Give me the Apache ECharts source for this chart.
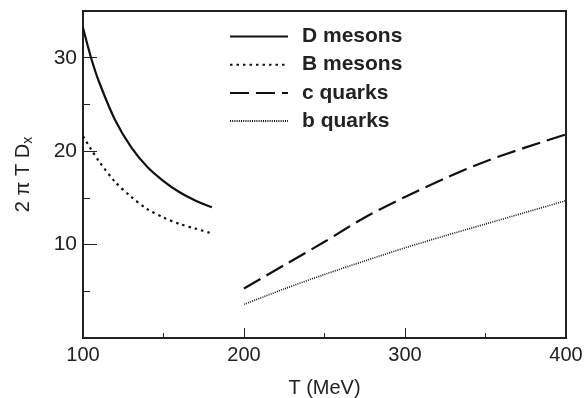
<!DOCTYPE html>
<html><head><meta charset="utf-8">
<script src="https://cdn.jsdelivr.net/npm/echarts@6/dist/echarts.min.js"></script>
<style>html,body{margin:0;padding:0;background:#fff}#c{width:586px;height:398px}</style>
</head><body><div id="c"></div>
<script>
const mesonT = [100, 105, 110, 120, 130, 140, 150, 160, 170, 180];
const dMesons = [33.2, 30.0, 27.4, 23.3, 20.4, 18.3, 16.8, 15.6, 14.7, 14.0];
const bMesons = [21.6, 20.2, 18.9, 16.7, 15.1, 13.8, 12.9, 12.2, 11.7, 11.2];
const quarkT = [200, 225, 250, 275, 300, 325, 350, 375, 400];
const cQuarks = [5.3, 7.8, 10.3, 12.9, 15.1, 17.1, 18.9, 20.4, 21.8];
const bQuarks = [3.6, 5.25, 6.8, 8.25, 9.65, 10.95, 12.2, 13.45, 14.7];
const seriesNames = ['D mesons', 'B mesons', 'c quarks', 'b quarks'];
const xTickLabels = ['100', '200', '300', '400'];
const yTickLabels = ['10', '20', '30'];

const pair = (xs, ys) => xs.map((x, i) => [x, ys[i]]);
const FONT = 'Liberation Sans';
const INK = '#222';

const chart = echarts.init(document.getElementById('c'), null, {renderer: 'canvas'});
chart.setOption({
  animation: false,
  backgroundColor: '#fff',
  textStyle: {fontFamily: FONT},
  grid: {left: 83, top: 11, right: 20, bottom: 60, containLabel: false, outerBoundsMode: 'none',
         show: true, borderColor: INK, borderWidth: 2, backgroundColor: 'transparent'},
  legend: {
    orient: 'vertical', left: 224, top: 21,
    itemWidth: 58, itemHeight: 14, itemGap: 7.2,
    data: seriesNames,
    itemStyle: {opacity: 0},
    textStyle: {fontFamily: FONT, fontSize: 21, fontWeight: 'bold', color: INK, padding: [0, 0, 0, 9]}
  },
  xAxis: [{
    type: 'value', min: 100, max: 400, interval: 100,
    name: 'T (MeV)', nameLocation: 'middle', nameGap: 40,
    nameTextStyle: {fontFamily: FONT, fontSize: 20, color: INK},
    axisLine: {show: true, lineStyle: {color: INK, width: 2}},
    axisTick: {show: true, inside: true, length: 10, lineStyle: {color: INK, width: 1}},
    axisLabel: {fontFamily: FONT, fontSize: 20, color: INK, margin: 7,
      formatter: v => xTickLabels.includes(String(v)) ? String(v) : ''},
    splitLine: {show: false}
  }, {
    type: 'value', min: 100, max: 400, interval: 50, position: 'bottom',
    axisLine: {show: false},
    axisTick: {show: true, inside: true, length: 5, lineStyle: {color: INK, width: 1}},
    axisLabel: {show: false}, splitLine: {show: false}
  }],
  yAxis: [{
    type: 'value', min: 0, max: 35, interval: 10,
    name: '{m|2 π T D}{s|x}', nameLocation: 'middle', nameGap: 48, nameRotate: 90,
    nameTextStyle: {fontFamily: FONT, color: INK,
      rich: {m: {fontFamily: FONT, fontSize: 20, lineHeight: 24, color: INK},
             s: {fontFamily: FONT, fontSize: 14, lineHeight: 14, color: INK, verticalAlign: 'bottom'}}},
    axisLine: {show: true, lineStyle: {color: INK, width: 2}},
    axisTick: {show: true, inside: true, length: 14, lineStyle: {color: INK, width: 1}},
    axisLabel: {fontFamily: FONT, fontSize: 21, color: INK, margin: 6,
      formatter: v => yTickLabels.includes(String(v)) ? String(v) : ''},
    splitLine: {show: false}
  }, {
    type: 'value', min: 0, max: 35, interval: 5, position: 'left',
    axisLine: {show: false},
    axisTick: {show: true, inside: true, length: 7, lineStyle: {color: INK, width: 1}},
    axisLabel: {show: false}, splitLine: {show: false}
  }],
  series: [
    {name: seriesNames[0], type: 'line', data: pair(mesonT, dMesons), symbol: 'none', smooth: 0.3,
     color: '#111', lineStyle: {color: '#111', width: 2.2, type: 'solid'}},
    {name: seriesNames[1], type: 'line', data: pair(mesonT, bMesons), symbol: 'none', smooth: 0.3,
     color: '#111', lineStyle: {color: '#111', width: 2.2, type: [2.5, 4]}},
    {name: seriesNames[2], type: 'line', data: pair(quarkT, cQuarks), symbol: 'none', smooth: 0.3,
     color: '#111', lineStyle: {color: '#111', width: 2.2, type: [19, 7]}},
    {name: seriesNames[3], type: 'line', data: pair(quarkT, bQuarks), symbol: 'none', smooth: 0.3,
     color: '#111', lineStyle: {color: '#111', width: 1.6, type: [1, 1.2]}}
  ]
});
</script></body></html>
